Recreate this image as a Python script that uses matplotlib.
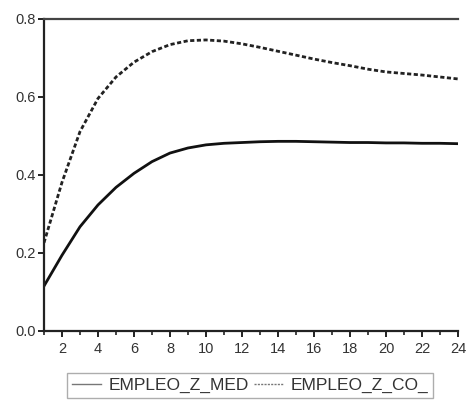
import numpy as np
import matplotlib
matplotlib.use('Agg')
import matplotlib.pyplot as plt
from matplotlib.ticker import MultipleLocator

plt.rcParams['font.family'] = ['Liberation Sans', 'DejaVu Sans']

# periods 1..24 and the two impulse responses
periods = list(range(1, 25))
empleo_med = [0.114, 0.193, 0.266, 0.322, 0.367, 0.403, 0.433, 0.455,
              0.468, 0.476, 0.480, 0.482, 0.484, 0.485, 0.485, 0.484,
              0.483, 0.482, 0.482, 0.481, 0.481, 0.480, 0.480, 0.479]
empleo_co = [0.225, 0.380, 0.510, 0.595, 0.650, 0.688, 0.715, 0.733,
             0.743, 0.745, 0.742, 0.735, 0.726, 0.716, 0.706, 0.696,
             0.687, 0.679, 0.670, 0.663, 0.659, 0.655, 0.650, 0.645]
series_labels = ['EMPLEO_Z_MED', 'EMPLEO_Z_CO_']
y_ticks = [0.0, 0.2, 0.4, 0.6, 0.8]

fig = plt.figure(figsize=(4.67, 4.01), dpi=100)
# axes box placed to match the reference pixels
ax = fig.add_axes([44 / 467, 1 - 330.5 / 401, 414 / 467, 312 / 401])

x = np.array(periods)
ax.plot(x, empleo_med, color='#111111', lw=2.0, label=series_labels[0])
ax.plot(x, empleo_co, color='#222222', lw=2.0, dashes=(1.5, 0.9),
        label=series_labels[1])

ax.set_xlim(1, 24)
ax.set_ylim(0, 0.8)
ax.xaxis.set_major_locator(MultipleLocator(2))
ax.xaxis.set_minor_locator(MultipleLocator(1))
ax.set_yticks(y_ticks)
ax.set_yticklabels(['%.1f' % v for v in y_ticks])

ax.spines['right'].set_visible(False)
for s in ['left', 'bottom', 'top']:
    ax.spines[s].set_linewidth(1.6)
    ax.spines[s].set_color('#222222')
ax.spines['top'].set_color('#444444')

ax.tick_params(axis='both', which='major', direction='out', length=4,
               width=1.4, color='#222222', labelsize=10.5, labelcolor='#333333')
ax.tick_params(axis='x', which='major', pad=4)
ax.tick_params(axis='y', which='major', pad=2)
ax.tick_params(axis='x', which='minor', direction='out', length=3,
               width=1.2, color='#222222')
ax.tick_params(top=False, right=False)

leg = fig.legend(loc='center', bbox_to_anchor=(250 / 467, 1 - 385.5 / 401),
                 ncol=2, fontsize=12.5, frameon=True, fancybox=False,
                 handlelength=1.7, handletextpad=0.4, columnspacing=0.3,
                 borderpad=0.3, borderaxespad=0)
leg.get_frame().set_edgecolor('#999999')
leg.get_frame().set_linewidth(1.0)
for line in leg.get_lines():
    line.set_linewidth(1.0)
    line.set_color('#777777')
for t in leg.get_texts():
    t.set_color('#333333')

plt.savefig('out.png', dpi=100)
